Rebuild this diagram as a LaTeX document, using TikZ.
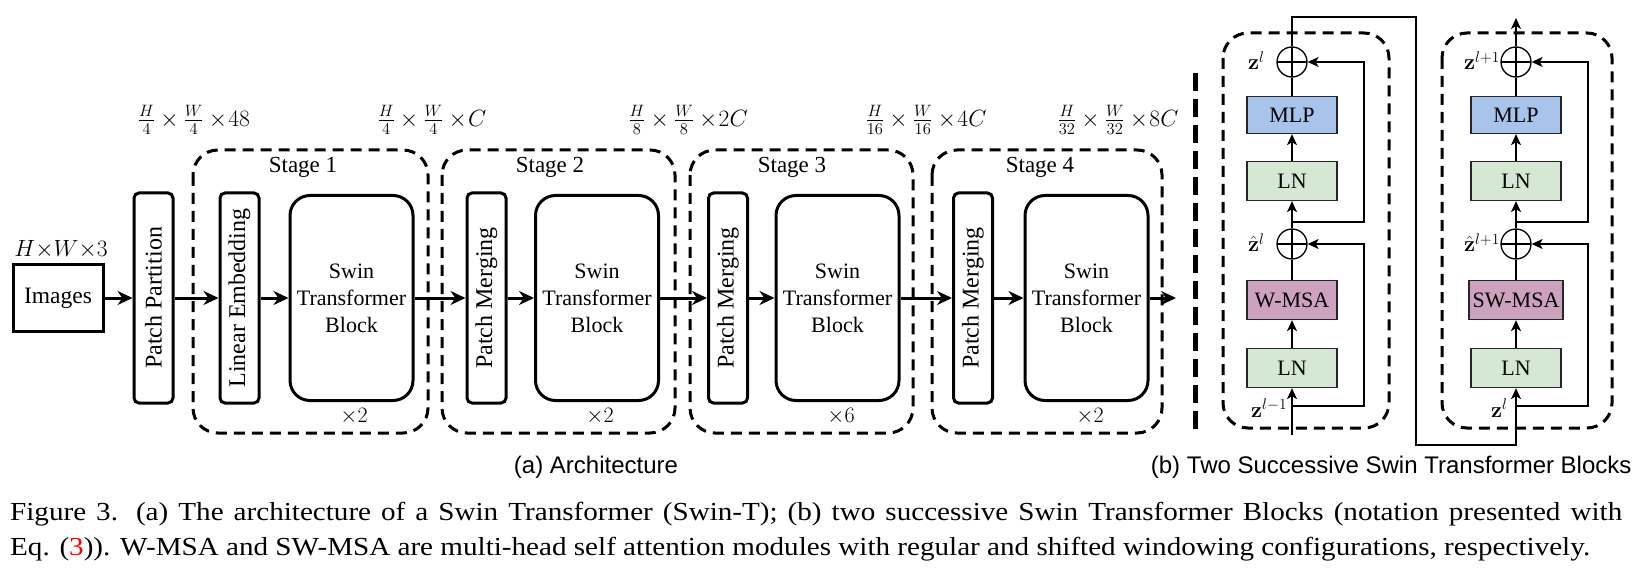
\RequirePackage{fix-cm}
\documentclass[tikz,border=0pt]{standalone}
\usepackage{amsmath}
\usepackage[no-math]{fontspec}
\setmainfont{Liberation Serif}
\newfontfamily\capsans{Liberation Sans}
\newfontfamily\capserif[FakeStretch=1.12]{Liberation Serif}
\usetikzlibrary{arrows.meta, positioning}

\definecolor{mlpblue}{HTML}{A9C4EB}
\definecolor{lngreen}{HTML}{D5E8D4}
\definecolor{msapink}{HTML}{CDA2BE}

\tikzset{
  thick box/.style={draw, line width=3pt, rounded corners=5pt, inner sep=0pt},
  vert box/.style={thick box, rotate=90, minimum width=210pt, minimum height=39pt,
    font=\fontsize{24}{28}\selectfont},
  swin box/.style={draw, line width=3pt, rounded corners=20pt, minimum width=123pt,
    minimum height=205pt, align=center, inner sep=0pt},
  stage box/.style={line width=3pt, dash pattern=on 11pt off 7pt, rounded corners=25pt},
  flow/.style={line width=3pt, -{Stealth[length=15pt, width=14pt]}},
  layer/.style={draw=black!85, line width=1.3pt, minimum width=90pt, minimum height=39pt, inner sep=0pt},
  thin/.style={line width=1.3pt},
  thin flow/.style={thin, -{Stealth[length=11pt, width=10pt, inset=3pt]}},
  add/.style={circle, draw, line width=1.3pt, minimum size=30pt, inner sep=0pt,
    path picture={\draw[line width=1.3pt]
      (path picture bounding box.north) -- (path picture bounding box.south)
      (path picture bounding box.west) -- (path picture bounding box.east);}},
  zlabel/.style={anchor=base west, inner sep=0pt},
  dims/.style={font=\fontsize{23.5}{28}\selectfont},
}

\begin{document}
\begin{tikzpicture}[x=1pt, y=-1pt, font=\fontsize{22}{27}\selectfont]
  \useasboundingbox (0,0) rectangle (1651,585);

  % (a) stages
  \draw[stage box] (193,150) rectangle (428,433);
  \draw[stage box] (442,150) rectangle (675,433);
  \draw[stage box] (690,150) rectangle (913,433);
  \draw[stage box] (932,150) rectangle (1162,433);
  \node[anchor=base, font=\fontsize{23}{27}\selectfont] at (303,173) {Stage 1};
  \node[anchor=base, font=\fontsize{23}{27}\selectfont] at (550,173) {Stage 2};
  \node[anchor=base, font=\fontsize{23}{27}\selectfont] at (792,173) {Stage 3};
  \node[anchor=base, font=\fontsize{23}{27}\selectfont] at (1040,173) {Stage 4};
  \node[anchor=base] at (354,422) {$\times2$};
  \node[anchor=base] at (600,422) {$\times2$};
  \node[anchor=base] at (841,422) {$\times6$};
  \node[anchor=base] at (1090,422) {$\times2$};

  % (a) blocks
  \node[thick box, rounded corners=0pt, minimum width=90pt, minimum height=66pt,
    font=\fontsize{23.5}{28}\selectfont] (img) at (58,298) {Images};
  \node[anchor=base, dims] at (61,257) {$H{\times}W{\times}3$};
  \node[vert box] (pp) at (153.5,298) {Patch Partition};
  \node[vert box] (le) at (239.5,298) {Linear Embedding};
  \node[swin box] (sw1) at (351.5,298) {Swin\\Transformer\\Block};
  \node[vert box] (pm2) at (486.5,298) {Patch Merging};
  \node[swin box] (sw2) at (597,298) {Swin\\Transformer\\Block};
  \node[vert box] (pm3) at (728,298) {Patch Merging};
  \node[swin box] (sw3) at (837.5,298) {Swin\\Transformer\\Block};
  \node[vert box] (pm4) at (973,298) {Patch Merging};
  \node[swin box] (sw4) at (1086.5,298) {Swin\\Transformer\\Block};
  \coordinate (out) at (1176,298);

  \draw[flow] (img) -- (pp);
  \draw[flow] (pp) -- (le);
  \draw[flow] (le) -- (sw1);
  \draw[flow] (sw1) -- (pm2);
  \draw[flow] (pm2) -- (sw2);
  \draw[flow] (sw2) -- (pm3);
  \draw[flow] (pm3) -- (sw3);
  \draw[flow] (sw3) -- (pm4);
  \draw[flow] (pm4) -- (sw4);
  \draw[flow] (sw4) -- (out);

  % sizes
  \node[dims] at (194,120) {$\frac{H}{4}\times\frac{W}{4}\times\!48$};
  \node[dims] at (432,120) {$\frac{H}{4}\times\frac{W}{4}\times\!C$};
  \node[dims] at (688,120) {$\frac{H}{8}\times\frac{W}{8}\times\!2C$};
  \node[dims] at (926,120) {$\frac{H}{16}\times\frac{W}{16}\times\!4C$};
  \node[dims] at (1118,120) {$\frac{H}{32}\times\frac{W}{32}\times\!8C$};

  % separator
  \draw[line width=5pt, dash pattern=on 18pt off 8pt] (1195,73) -- (1195,433);

  % (b) left block
  \draw[stage box] (1223,33) rectangle (1389,428);
  \node[layer, fill=lngreen] (ln1) at (1292,368) {LN};
  \node[layer, fill=msapink] (wmsa) at (1292,300) {W-MSA};
  \node[add] (add1) at (1292,244) {};
  \node[layer, fill=lngreen] (ln2) at (1292,181) {LN};
  \node[layer, fill=mlpblue, minimum height=37pt] (mlp1) at (1292,115) {MLP};
  \node[add] (add2) at (1292,62) {};
  \coordinate (in1) at (1292,435);
  \coordinate (br1) at (1292,406);
  \coordinate (br2) at (1292,222);
  \coordinate (skip1) at (1364,0);

  \draw[thin flow] (in1) -- (ln1);
  \draw[thin flow, line width=2pt] (ln1) -- (wmsa);
  \draw[thin] (wmsa) -- (add1);
  \draw[thin flow] (add1) -- (ln2);
  \draw[thin flow] (ln2) -- (mlp1);
  \draw[thin] (mlp1) -- (add2);
  \draw[thin flow] (br1) -- (br1 -| skip1) |- (add1);
  \draw[thin flow] (br2) -- (br2 -| skip1) |- (add2);

  \node[zlabel] at (1248,70) {$\mathbf{z}^{l}$};
  \node[zlabel] at (1248,252) {$\hat{\mathbf{z}}^{l}$};
  \node[zlabel] at (1251,417) {$\mathbf{z}^{l-1}$};

  % (b) right block
  \draw[stage box] (1442,33) rectangle (1612,428);
  \node[layer, fill=lngreen] (ln3) at (1516,368) {LN};
  \node[layer, fill=msapink, minimum width=94pt] (swmsa) at (1516,300) {SW-MSA};
  \node[add] (add3) at (1516,244) {};
  \node[layer, fill=lngreen] (ln4) at (1516,181) {LN};
  \node[layer, fill=mlpblue, minimum height=37pt] (mlp2) at (1516,115) {MLP};
  \node[add] (add4) at (1516,62) {};
  \coordinate (br3) at (1516,406);
  \coordinate (br4) at (1516,222);
  \coordinate (skip2) at (1588,0);
  \coordinate (out2) at (1516,18);
  \coordinate (turn1) at (1416,17);
  \coordinate (turn2) at (1416,445);

  \draw[thin flow] (add2) |- (turn1) -- (turn2) -| (ln3);
  \draw[thin flow, line width=2pt] (ln3) -- (swmsa);
  \draw[thin] (swmsa) -- (add3);
  \draw[thin flow] (add3) -- (ln4);
  \draw[thin flow] (ln4) -- (mlp2);
  \draw[thin] (mlp2) -- (add4);
  \draw[thin flow] (add4) -- (out2);
  \draw[thin flow] (br3) -- (br3 -| skip2) |- (add3);
  \draw[thin flow] (br4) -- (br4 -| skip2) |- (add4);

  \node[zlabel] at (1464,70) {$\mathbf{z}^{l+1}$};
  \node[zlabel] at (1464,252) {$\hat{\mathbf{z}}^{l+1}$};
  \node[zlabel] at (1491,417) {$\mathbf{z}^{l}$};

  % captions
  \node[font=\capsans\fontsize{24}{28}\selectfont, anchor=base] at (596,473) {(a) Architecture};
  \node[font=\capsans\fontsize{24}{28}\selectfont, anchor=base east] at (1635,473) {(b) Two Successive Swin Transformer Blocks};
  \node[anchor=north west, text width=1612pt, align=justify, inner sep=0pt,
    font=\capserif\fontsize{26}{35}\selectfont] at (10,502)
    {Figure 3. (a) The architecture of a Swin Transformer (Swin-T); (b) two successive Swin Transformer Blocks (notation presented with\linebreak
     Eq. (\textcolor{red}{3})). W-MSA and SW-MSA are multi-head self attention modules with regular and shifted windowing configurations, respectively.};
\end{tikzpicture}
\end{document}
